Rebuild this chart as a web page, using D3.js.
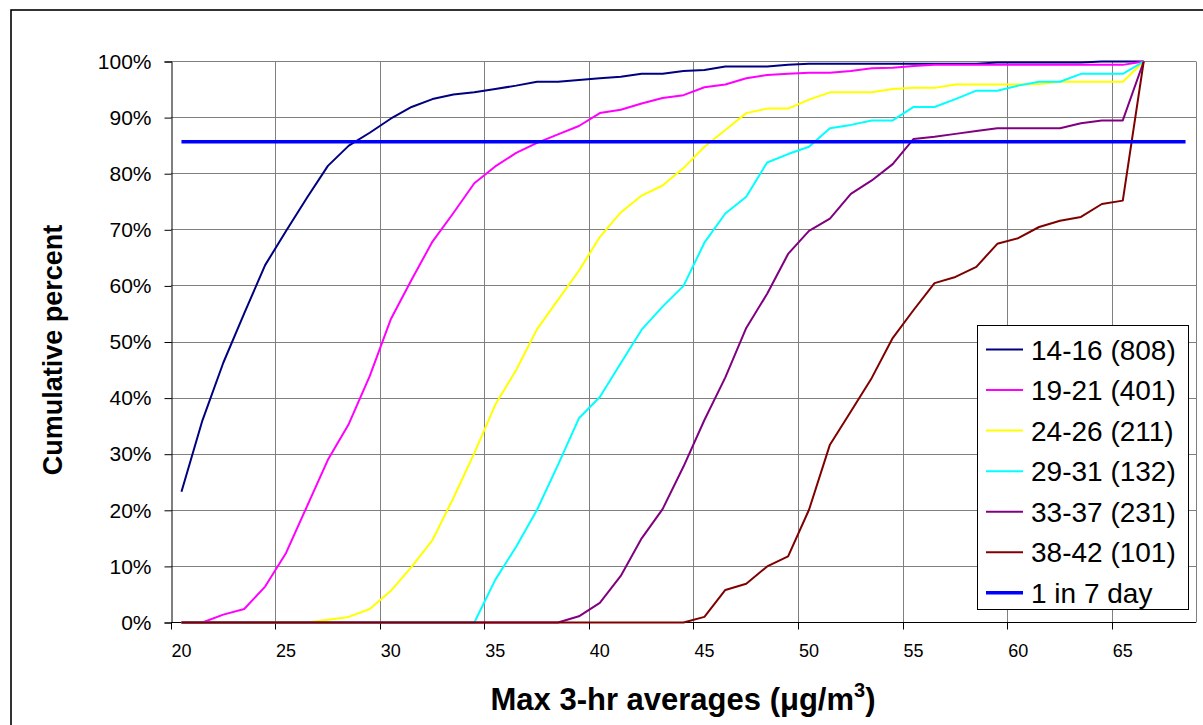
<!DOCTYPE html>
<html>
<head>
<meta charset="utf-8">
<script src="https://cdn.jsdelivr.net/npm/d3@7"></script>
<style>
  html, body { margin: 0; padding: 0; background: #fff; }
  svg { display: block; font-family: "Liberation Sans", Arial, sans-serif; }
</style>
</head>
<body>
<svg id="chart" width="1203" height="725"></svg>
<script>
// Category axis (Excel style): one slot per ug/m3 value
var categories = [20, 21, 22, 23, 24, 25, 26, 27, 28, 29, 30, 31, 32, 33, 34, 35, 36, 37, 38, 39,
                  40, 41, 42, 43, 44, 45, 46, 47, 48, 49, 50, 51, 52, 53, 54, 55, 56, 57, 58, 59,
                  60, 61, 62, 63, 64, 65, 66, 67, 68];
var dataCats   = [20, 21, 22, 23, 24, 25, 26, 27, 28, 29, 30, 31, 32, 33, 34, 35, 36, 37, 38, 39,
                  40, 41, 42, 43, 44, 45, 46, 47, 48, 49, 50, 51, 52, 53, 54, 55, 56, 57, 58, 59,
                  60, 61, 62, 63, 64, 65, 66];
var xLabels    = [20, 25, 30, 35, 40, 45, 50, 55, 60, 65];
var yTicks     = [0, 10, 20, 30, 40, 50, 60, 70, 80, 90, 100];

var seriesNames = ["14-16 (808)", "19-21 (401)", "24-26 (211)", "29-31 (132)", "33-37 (231)", "38-42 (101)"];
var refName     = "1 in 7 day";

// cumulative percent, one value per data category
var s1416 = [23.3, 36.0, 46.3, 55.1, 63.7, 69.8, 75.7, 81.4, 85.0, 87.3, 89.8, 91.9, 93.3, 94.1, 94.5, 95.1,
             95.7, 96.4, 96.4, 96.7, 97.0, 97.3, 97.8, 97.8, 98.3, 98.5, 99.1, 99.1, 99.1, 99.4, 99.6, 99.6,
             99.6, 99.6, 99.6, 99.6, 99.6, 99.6, 99.6, 99.8, 99.8, 99.8, 99.8, 99.8, 100, 100, 100];
var s1921 = [0, 0, 1.4, 2.4, 6.4, 12.4, 20.7, 29.0, 35.4, 43.9, 54.0, 61.1, 67.9, 73.0, 78.3, 81.3,
             83.7, 85.5, 87.0, 88.5, 90.8, 91.4, 92.5, 93.5, 94.0, 95.4, 95.9, 97.0, 97.6, 97.8, 98.0, 98.0,
             98.3, 98.8, 98.9, 99.2, 99.4, 99.4, 99.4, 99.4, 99.4, 99.4, 99.4, 99.4, 99.4, 99.4, 100];
var s2426 = [0, 0, 0, 0, 0, 0, 0, 0.5, 1.0, 2.4, 5.6, 9.9, 14.7, 22.2, 30.2, 38.8,
             45.0, 52.3, 57.5, 62.7, 68.7, 73.1, 76.1, 77.9, 81.0, 84.8, 87.8, 90.8, 91.6, 91.6, 93.2, 94.5,
             94.5, 94.5, 95.1, 95.3, 95.3, 95.9, 95.9, 95.9, 95.9, 96.0, 96.4, 96.4, 96.4, 96.4, 100];
var s2931 = [0, 0, 0, 0, 0, 0, 0, 0, 0, 0, 0, 0, 0, 0, 0, 7.6,
             13.5, 20.1, 28.1, 36.4, 40.2, 46.2, 52.2, 56.3, 60.0, 67.7, 72.9, 75.9, 82.0, 83.5, 84.8, 88.1,
             88.7, 89.5, 89.5, 91.9, 91.9, 93.3, 94.8, 94.8, 95.7, 96.4, 96.4, 97.8, 97.8, 97.8, 100];
var s3337 = [0, 0, 0, 0, 0, 0, 0, 0, 0, 0, 0, 0, 0, 0, 0, 0,
             0, 0, 0, 1.1, 3.5, 8.3, 15.0, 20.2, 27.8, 36.1, 43.7, 52.5, 58.6, 65.7, 69.8, 72.0,
             76.4, 78.8, 81.7, 86.2, 86.6, 87.1, 87.6, 88.1, 88.1, 88.1, 88.1, 89.0, 89.5, 89.5, 100];
var s3842 = [0, 0, 0, 0, 0, 0, 0, 0, 0, 0, 0, 0, 0, 0, 0, 0,
             0, 0, 0, 0, 0, 0, 0, 0, 0, 1.0, 5.8, 6.9, 10.0, 11.8, 20.1, 31.7,
             37.6, 43.6, 50.7, 55.7, 60.5, 61.6, 63.4, 67.5, 68.5, 70.5, 71.6, 72.3, 74.6, 75.2, 100];

// 1 in 7 day exceedance level (6/7)
var oneInSeven = 85.7;

var seriesValues = [s1416, s1921, s2426, s2931, s3337, s3842];
var seriesColors = ["#000080", "#ff00ff", "#ffff00", "#00ffff", "#800080", "#800000"];
var refColor     = "#0000ff";

var svg = d3.select("#chart");

var plot = { left: 171, right: 1196, top: 61.5, bottom: 622.5 };

var x = d3.scaleBand()
          .domain(categories)
          .range([plot.left, plot.right])
          .padding(0);
var bw = x.bandwidth();
var cx = function (c) { return x(c) + bw / 2; };

var y = d3.scaleLinear()
          .domain([0, 100])
          .range([plot.bottom, plot.top]);

var crisp = function (v) { return Math.round(v - 0.5) + 0.5; };

// outer chart frame, runs off the page on the right / bottom
svg.append("rect")
   .attr("x", 11)
   .attr("y", 10)
   .attr("width", 1400)
   .attr("height", 900)
   .attr("fill", "none")
   .attr("stroke", "#000")
   .attr("stroke-width", 1.6);

// gridlines
var grid = svg.append("g").attr("stroke", "#808080").attr("stroke-width", 1);

grid.selectAll("line.h")
    .data(yTicks.filter(function (d) { return d > 0; }))
    .enter().append("line")
    .attr("x1", plot.left).attr("x2", plot.right)
    .attr("y1", function (d) { return crisp(y(d)); })
    .attr("y2", function (d) { return crisp(y(d)); });

grid.selectAll("line.v")
    .data(xLabels.slice(1))
    .enter().append("line")
    .attr("x1", function (d) { return crisp(x(d)); })
    .attr("x2", function (d) { return crisp(x(d)); })
    .attr("y1", plot.top).attr("y2", plot.bottom);

// right edge of the plot area
grid.append("line")
    .attr("x1", crisp(plot.right)).attr("x2", crisp(plot.right))
    .attr("y1", plot.top).attr("y2", plot.bottom);

// y axis
var yAxis = d3.axisLeft(y)
              .tickValues(yTicks)
              .tickSize(7)
              .tickPadding(13)
              .tickFormat(function (d) { return d + "%"; });

svg.append("g")
   .attr("transform", "translate(" + crisp(plot.left) + ",0)")
   .call(yAxis)
   .call(function (g) {
     g.select(".domain").attr("stroke", "#000");
     g.selectAll(".tick line").attr("stroke", "#000");
     g.selectAll(".tick text")
      .attr("fill", "#000")
      .style("font-family", "'Liberation Sans', Arial, sans-serif")
      .style("font-size", "21px");
   });

// x axis: ticks sit on category boundaries, labels on category centres
var xAxis = svg.append("g");

xAxis.append("line")
     .attr("x1", plot.left).attr("x2", plot.right)
     .attr("y1", crisp(plot.bottom)).attr("y2", crisp(plot.bottom))
     .attr("stroke", "#000");

xAxis.selectAll("line.tick")
     .data(xLabels)
     .enter().append("line")
     .attr("x1", function (d) { return crisp(x(d)); })
     .attr("x2", function (d) { return crisp(x(d)); })
     .attr("y1", plot.bottom).attr("y2", plot.bottom + 7)
     .attr("stroke", "#000");

xAxis.selectAll("text")
     .data(xLabels)
     .enter().append("text")
     .attr("x", function (d) { return cx(d); })
     .attr("y", 657)
     .attr("text-anchor", "middle")
     .style("font-size", "18px")
     .text(function (d) { return d; });

// series
var line = d3.line()
             .x(function (d) { return cx(d.c); })
             .y(function (d) { return y(d.v); });

seriesValues.forEach(function (vals, i) {
  var pts = dataCats.map(function (c, j) { return { c: c, v: vals[j] }; });
  svg.append("path")
     .datum(pts)
     .attr("d", line)
     .attr("fill", "none")
     .attr("stroke", seriesColors[i])
     .attr("stroke-width", 2)
     .attr("stroke-linejoin", "round");
});

// reference line drawn across every category
svg.append("path")
   .datum(categories.map(function (c) { return { c: c, v: oneInSeven }; }))
   .attr("d", line)
   .attr("fill", "none")
   .attr("stroke", refColor)
   .attr("stroke-width", 3.5);

// axis titles
svg.append("text")
   .attr("transform", "translate(62,350) rotate(-90)")
   .attr("text-anchor", "middle")
   .style("font-size", "27px")
   .style("font-weight", "bold")
   .text("Cumulative percent");

var xt = svg.append("text")
            .attr("x", 683)
            .attr("y", 710)
            .attr("text-anchor", "middle")
            .style("font-size", "31px")
            .style("font-weight", "bold");
xt.append("tspan").text("Max 3-hr averages (\u03bcg/m");
xt.append("tspan").attr("dy", -13).style("font-size", "20px").text("3");
xt.append("tspan").attr("dy", 13).text(")");

// legend
var legend = svg.append("g");
var rowH   = 40.55;
var row0   = 349.5;

legend.append("rect")
      .attr("x", 977.5).attr("y", 325.5)
      .attr("width", 211).attr("height", 284)
      .attr("fill", "#fff")
      .attr("stroke", "#000")
      .attr("stroke-width", 1);

var items = seriesNames.map(function (n, i) { return { name: n, color: seriesColors[i], w: 2 }; });
items.push({ name: refName, color: refColor, w: 3.5 });

items.forEach(function (it, i) {
  var yy = row0 + i * rowH;
  legend.append("line")
        .attr("x1", 986).attr("x2", 1023)
        .attr("y1", yy).attr("y2", yy)
        .attr("stroke", it.color)
        .attr("stroke-width", it.w);
  legend.append("text")
        .attr("x", 1031)
        .attr("y", yy)
        .attr("dy", "0.36em")
        .style("font-size", "28px")
        .text(it.name);
});
</script>
</body>
</html>
